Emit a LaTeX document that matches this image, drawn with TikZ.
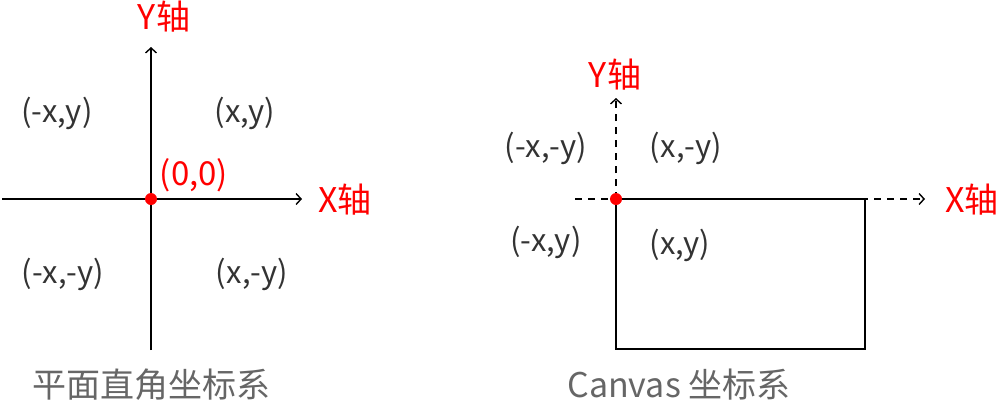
\documentclass[tikz,border=0pt]{standalone}
\usepackage{fontspec}
\setmainfont{Noto Sans CJK SC}
\usetikzlibrary{arrows.meta}
\definecolor{txt}{HTML}{333333}
\definecolor{cap}{HTML}{666666}
\tikzset{
  axis/.style={line width=1.6pt, -{Straight Barb[length=5pt,width=11pt,line width=1.4pt]}},
  daxis/.style={axis, dash pattern=on 7pt off 6pt},
  edge/.style={line width=1.6pt},
  lbl/.style={text=txt, font=\fontsize{31}{36}\selectfont, inner sep=0pt},
  axl/.style={text=red, font=\fontsize{34}{38}\selectfont, inner sep=0pt},
  org/.style={text=red, font=\fontsize{33}{38}\selectfont, inner sep=0pt},
  captxt/.style={text=cap, font=\fontsize{34}{38}\selectfont, inner sep=0pt},
  dot/.style={circle, fill=red, minimum size=12pt, inner sep=0pt}
}
\begin{document}
\begin{tikzpicture}[x=1pt,y=-1pt]
\useasboundingbox (0,0) rectangle (1001,405);
% left system
\coordinate (lL) at (2,199);
\coordinate (lR) at (302,199);
\coordinate (lB) at (151,350);
\coordinate (lT) at (151,47);
\draw[axis] (lL) -- (lR);
\draw[axis] (lB) -- (lT);
\node[dot] (o1) at (151,199) {};
\node[axl] (y1) at (164,17) {Y轴};
\node[axl] (x1) at (345,200) {X轴};
\node[org] (z1) at (194,175) {(0,0)};
\node[lbl] (q1) at (57,113) {(-x,y)};
\node[lbl] (q2) at (245,113) {(x,y)};
\node[lbl] (q3) at (63,274) {(-x,-y)};
\node[lbl] (q4) at (252,274) {(x,-y)};
\node[captxt] (c1) at (151,385) {平面直角坐标系};
% right system
\coordinate (rL) at (575,199);
\coordinate (rR) at (925,199);
\coordinate (rT) at (616,98);
\coordinate (rA) at (616,199);
\coordinate (rB) at (865,199);
\coordinate (rC) at (865,349);
\coordinate (rD) at (616,349);
\draw[daxis] (rL) -- (rR);
\draw[daxis] (rA) -- (rT);
\draw[edge, fill=white] (rA) -- (rB) -- (rC) -- (rD) -- cycle;
\node[dot] (o2) at (rA) {};
\node[axl] (y2) at (615,75) {Y轴};
\node[axl] (x2) at (972,200) {X轴};
\node[lbl] (p1) at (546,148) {(-x,-y)};
\node[lbl] (p2) at (686,148) {(x,-y)};
\node[lbl] (p3) at (546,242) {(-x,y)};
\node[lbl] (p4) at (680,245) {(x,y)};
\node[captxt] (c2) at (679,385) {Canvas 坐标系};
\end{tikzpicture}
\end{document}
